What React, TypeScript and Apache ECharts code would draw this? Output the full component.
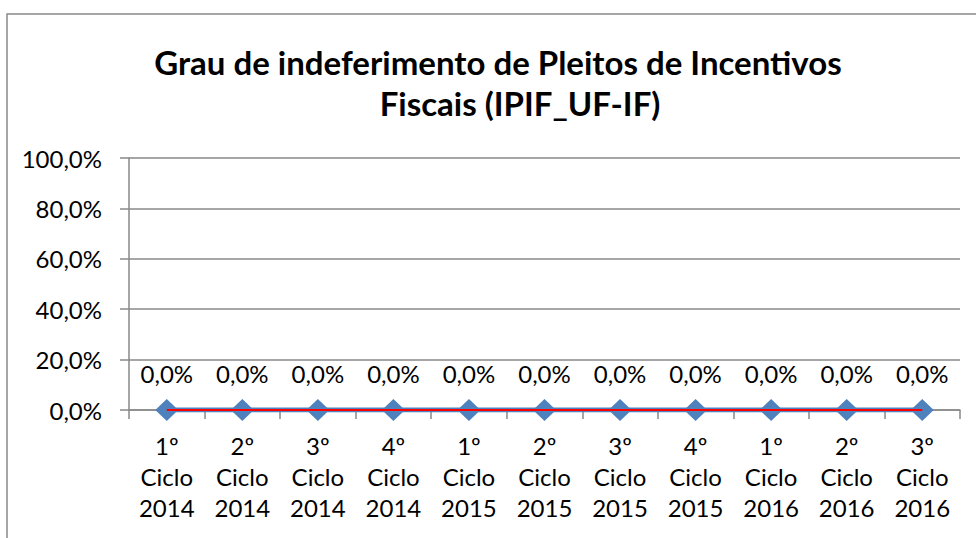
import React, { useEffect, useRef } from "react";
import * as echarts from "echarts";

const categories: string[] = [
  "1º\nCiclo\n2014",
  "2º\nCiclo\n2014",
  "3º\nCiclo\n2014",
  "4º\nCiclo\n2014",
  "1º\nCiclo\n2015",
  "2º\nCiclo\n2015",
  "3º\nCiclo\n2015",
  "4º\nCiclo\n2015",
  "1º\nCiclo\n2016",
  "2º\nCiclo\n2016",
  "3º\nCiclo\n2016",
];

const indeferimento: number[] = [0, 0, 0, 0, 0, 0, 0, 0, 0, 0, 0];
const referencia: number[] = [0, 0, 0, 0, 0, 0, 0, 0, 0, 0, 0];

const titleLines: string[] = [
  "Grau de indeferimento de Pleitos de Incentivos",
  "Fiscais (IPIF_UF-IF)",
];

const yMin = 0;
const yMax = 1;
const yInterval = 0.2;

const FONT = "Lato, 'Noto Sans', sans-serif";

const fmtPct = (v: number) => (v * 100).toFixed(1).replace(".", ",") + "%";

export default function App() {
  const ref = useRef<HTMLDivElement>(null);

  useEffect(() => {
    document.body.style.margin = "0";
    if (!ref.current) return;
    const chart = echarts.init(ref.current, null, { renderer: "svg" });
    chart.setOption({
      animation: false,
      backgroundColor: "#ffffff",
      textStyle: { fontFamily: FONT },
      graphic: [
        {
          type: "rect",
          shape: { x: 7, y: 14, width: 1200, height: 800 },
          style: { fill: "none", stroke: "#898989", lineWidth: 1.5 },
          silent: true,
        },
        {
          type: "text",
          x: 498,
          y: 62,
          style: {
            text: titleLines[0],
            font: `bold 33px ${FONT}`,
            fill: "#000000",
            textAlign: "center",
            textVerticalAlign: "middle",
          },
        },
        {
          type: "text",
          x: 520,
          y: 103,
          style: {
            text: titleLines[1],
            font: `bold 33px ${FONT}`,
            fill: "#000000",
            textAlign: "center",
            textVerticalAlign: "middle",
          },
        },
      ],
      grid: { left: 129, right: 16, top: 158, bottom: 128, containLabel: false },
      xAxis: {
        type: "category",
        data: categories,
        boundaryGap: true,
        axisLine: { show: true, lineStyle: { color: "#898989", width: 1.5 } },
        axisTick: { show: true, length: 9, lineStyle: { color: "#898989", width: 1.5 } },
        axisLabel: {
          interval: 0,
          margin: 20,
          color: "#000000",
          fontSize: 24,
          lineHeight: 31,
          fontFamily: FONT,
        },
        splitLine: { show: false },
      },
      yAxis: {
        type: "value",
        min: yMin,
        max: yMax,
        interval: yInterval,
        axisLine: { show: true, lineStyle: { color: "#898989", width: 1.5 } },
        axisTick: { show: true, length: 9, lineStyle: { color: "#898989", width: 1.5 } },
        axisLabel: {
          margin: 27,
          color: "#000000",
          fontSize: 24,
          fontFamily: FONT,
          formatter: (v: number) => fmtPct(v),
        },
        splitLine: { show: true, lineStyle: { color: "#898989", width: 1.5 } },
      },
      series: [
        {
          name: "IPIF_UF-IF",
          type: "line",
          data: indeferimento,
          symbol: "diamond",
          symbolSize: [23, 22],
          lineStyle: { color: "#4F81BD", width: 5 },
          itemStyle: { color: "#4F81BD" },
          label: {
            show: true,
            position: "top",
            distance: 14,
            color: "#000000",
            fontSize: 24,
            fontFamily: FONT,
            formatter: (p: any) => fmtPct(p.value),
          },
          z: 3,
        },
        {
          name: "Referência",
          type: "line",
          data: referencia,
          symbol: "none",
          lineStyle: { color: "#FF0000", width: 2 },
          itemStyle: { color: "#FF0000" },
          z: 4,
        },
      ],
    });
    return () => chart.dispose();
  }, []);

  return <div ref={ref} style={{ width: 976, height: 538 }} />;
}
